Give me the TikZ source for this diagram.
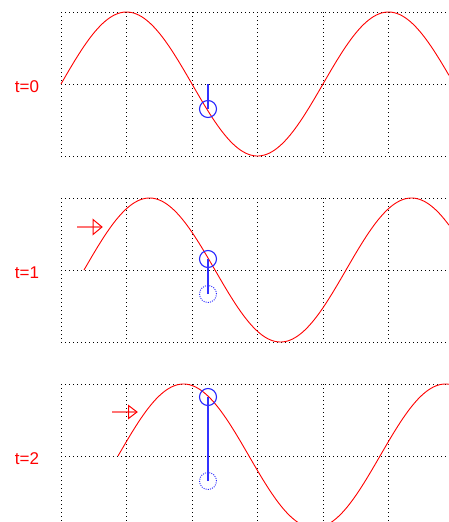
\documentclass[tikz,border=0pt]{standalone}
\usepackage{fontspec}
\setmainfont{Liberation Sans}
\begin{document}
\begin{tikzpicture}[x=1pt,y=-1pt,
  gridline/.style={draw=black,line width=1pt,dash pattern=on 1pt off 3pt},
  wave/.style={draw={rgb,255:red,255;green,0;blue,0},line width=0.9pt},
  particle/.style={circle,draw={rgb,255:red,40;green,40;blue,255},line width=1.1pt,minimum size=17pt,inner sep=0pt,outer sep=0pt},
  ghost/.style={particle,line width=0.9pt,dash pattern=on 1pt off 1.2pt},
  stem/.style={draw={rgb,255:red,50;green,50;blue,255},line width=1.2pt},
  timetag/.style={inner sep=0pt,outer sep=0pt,text={rgb,255:red,255;green,0;blue,0},font=\fontsize{17}{20}\selectfont},
  push/.style={draw={rgb,255:red,255;green,0;blue,0},draw opacity=0.55,line width=2pt},
  pushtip/.style={draw={rgb,255:red,255;green,0;blue,0},line width=1pt,line join=miter}]
\path[use as bounding box] (0,0) rectangle (449,522);
% grids, one per snapshot
\begin{scope}
\clip (0,0) rectangle (449,522);
\foreach \top in {12,198,384} {
  \foreach \i in {0,...,5}
    \draw[gridline] (61+65.5*\i,\top) -- (61+65.5*\i,\top+144);
  \foreach \j in {0,1,2}
    \draw[gridline] (61,\top+72*\j) -- (449,\top+72*\j);
}
% travelling wave (wavelength 262, 1.37405 deg per unit)
\draw[wave] plot[domain=61:449,samples=150] (\x,{84-72*sin(1.37405*(\x-61))});
\draw[wave] plot[domain=84:449,samples=150] (\x,{270-72*sin(1.37405*(\x-84))});
\draw[wave] plot[domain=118:449,samples=150] (\x,{456-72*sin(1.37405*(\x-118))});
\end{scope}
% labels
\node[timetag] (tag0) at (27,87) {t=0};
\node[timetag] (tag1) at (27,273) {t=1};
\node[timetag] (tag2) at (27,459) {t=2};
% t=0
\coordinate (rest0) at (208,84);
\node[particle] (ball0) at (208,109) {};
\draw[stem] (rest0) -- (ball0.center);
% t=1
\node[ghost] (start1) at (208,294) {};
\node[particle] (ball1) at (208,259) {};
\draw[stem] (start1.center) -- (ball1.center);
\coordinate (tail1) at (77,227);
\coordinate (head1) at (102,227);
\draw[push] (tail1) -- (head1);
\draw[pushtip] (head1) -- ++(-9,-7.5) -- ++(0,15) -- cycle;
% t=2
\node[ghost] (start2) at (208,481) {};
\node[particle] (ball2) at (208,397) {};
\draw[stem] (start2.center) -- (ball2.center);
\coordinate (tail2) at (112,412);
\coordinate (head2) at (137,412);
\draw[push] (tail2) -- (head2);
\draw[pushtip] (head2) -- ++(-8.5,-6.5) -- ++(0,13) -- cycle;
\end{tikzpicture}
\end{document}
